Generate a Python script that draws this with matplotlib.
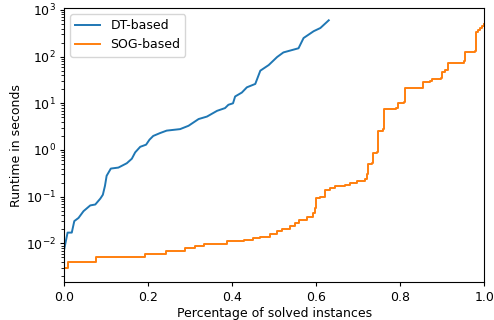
import numpy as np
import matplotlib
matplotlib.use("Agg")
import matplotlib.pyplot as plt

# DT-based: fraction solved vs runtime (s)
dt_frac = [0, 0.008, 0.018, 0.024, 0.034, 0.046, 0.062, 0.074, 0.086, 0.092,
           0.097, 0.101, 0.111, 0.129, 0.149, 0.161, 0.169, 0.181, 0.195, 0.203,
           0.212, 0.228, 0.244, 0.276, 0.296, 0.320, 0.340, 0.364, 0.383, 0.391,
           0.402, 0.407, 0.423, 0.435, 0.455, 0.467, 0.487, 0.507, 0.522, 0.558,
           0.570, 0.594, 0.610, 0.630]
dt_time = [0.0075, 0.017, 0.017, 0.030, 0.035, 0.049, 0.065, 0.068, 0.091, 0.11,
           0.17, 0.28, 0.40, 0.42, 0.52, 0.65, 0.89, 1.17, 1.3, 1.66,
           2.0, 2.3, 2.6, 2.8, 3.3, 4.6, 5.2, 6.9, 7.9, 9.3,
           10, 14, 17, 22, 26, 50, 66, 98, 123, 151,
           250, 350, 410, 600]

# SOG-based (step curve)
sog_frac = [0, 0.008, 0.076, 0.193, 0.243, 0.288, 0.312, 0.332, 0.387, 0.427,
            0.45, 0.467, 0.49, 0.506, 0.518, 0.538, 0.55, 0.56, 0.578, 0.592,
            0.598, 0.600, 0.61, 0.62, 0.632, 0.645, 0.669, 0.681, 0.697, 0.717,
            0.722, 0.724, 0.733, 0.735, 0.746, 0.748, 0.760, 0.762, 0.790, 0.794,
            0.810, 0.812, 0.854, 0.855, 0.871, 0.875, 0.897, 0.899, 0.907, 0.913,
            0.953, 0.955, 0.979, 0.981, 0.986, 0.99, 0.995, 1.0]
sog_time = [0.003, 0.0039, 0.005, 0.0059, 0.0069, 0.0081, 0.0088, 0.0098, 0.011, 0.012,
            0.013, 0.014, 0.0155, 0.018, 0.020, 0.023, 0.027, 0.032, 0.037, 0.045,
            0.058, 0.095, 0.10, 0.14, 0.15, 0.17, 0.18, 0.20, 0.22, 0.235,
            0.30, 0.51, 0.53, 0.87, 0.89, 2.6, 2.8, 7.6, 8.0, 10,
            10.5, 21, 22, 28, 30, 33, 34, 48, 52, 74,
            81, 123, 130, 345, 370, 410, 455, 500]

plt.rcParams["font.size"] = 9
plt.rcParams["lines.linewidth"] = 1.4
plt.rcParams["xtick.major.size"] = 3.2
plt.rcParams["ytick.major.size"] = 3.2
plt.rcParams["xtick.major.pad"] = 3
plt.rcParams["ytick.major.pad"] = 3
plt.rcParams["axes.labelpad"] = 2

fig, ax = plt.subplots(figsize=(4.94, 3.2), dpi=100)
fig.subplots_adjust(left=0.13, right=0.98, top=0.975, bottom=0.118)

ax.plot(dt_frac, dt_time, label="DT-based")
ax.plot(sog_frac, sog_time, drawstyle="steps-post", label="SOG-based")

ax.set_yscale("log")
ax.set_xlim(0, 1)
ax.set_ylim(1.47e-3, 1.1e3)
ax.set_xlabel("Percentage of solved instances")
ax.set_ylabel("Runtime in seconds")
ax.legend(loc="upper left")

fig.savefig("out.png", dpi=100)
